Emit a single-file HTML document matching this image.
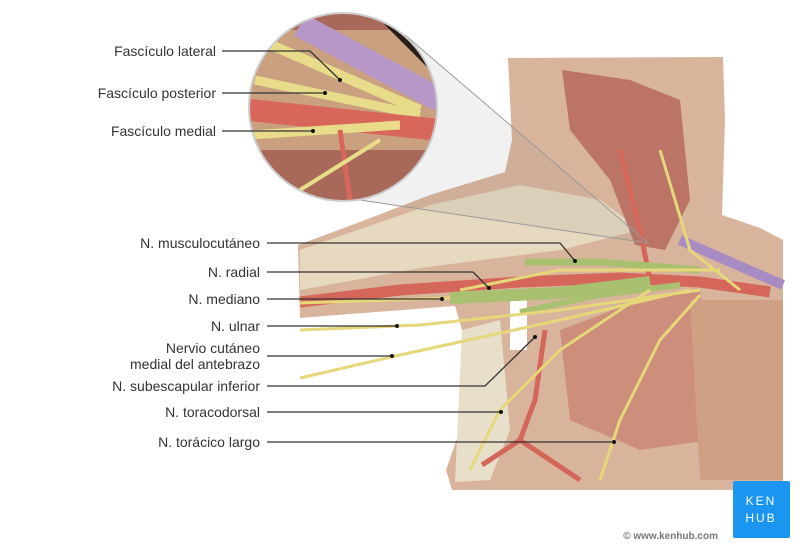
<!DOCTYPE html>
<html><head><meta charset="utf-8"><style>
html,body{margin:0;padding:0;background:#fff;width:800px;height:550px;overflow:hidden}
svg{display:block}
text{font-family:"Liberation Sans",sans-serif;font-size:14px;fill:#333}
</style></head><body>
<svg width="800" height="550" viewBox="0 0 800 550" xmlns="http://www.w3.org/2000/svg">
<defs>
<clipPath id="cc"><circle cx="343" cy="107" r="94"/></clipPath>
</defs>
<!-- body -->
<path d="M508,58 L723,57 L725,120 L722,215 L760,228 L783,240 L783,490 L452,490 L446,470 L460,430 L462,330 L455,306 L300,318 L298,245 L360,222 L430,195 L505,172 L512,140 Z" fill="#d9b49c"/>
<path d="M300,250 L430,205 L520,185 L600,200 L640,230 L560,250 L420,268 L300,290 Z" fill="#e6d9c0"/>
<path d="M562,70 L630,80 L680,100 L690,200 L665,250 L635,245 L610,180 L570,130 Z" fill="#bb7466"/>
<path d="M560,330 L640,300 L700,290 L710,440 L640,450 L570,420 Z" fill="#cd8e7c"/>
<path d="M690,300 L783,300 L783,480 L700,480 Z" fill="#cfa084"/>
<path d="M462,330 L500,320 L510,430 L490,480 L455,482 Z" fill="#e8dfcb"/>
<rect x="510" y="300" width="17" height="50" fill="#fff"/>
<path d="M300,318 L455,306 L462,330 L300,330 Z" fill="#fff"/>
<!-- vein -->
<path d="M680,240 L783,285" stroke="#a98bc4" stroke-width="10"/>
<!-- artery -->
<path d="M300,302 L400,290 L520,282 L620,278 L700,282 L770,292" stroke="#d5665a" stroke-width="11" fill="none"/>
<path d="M620,150 L640,230 L650,280" stroke="#d5665a" stroke-width="5" fill="none"/>
<path d="M545,330 L535,400 L520,440 L482,465 M520,440 L580,480" stroke="#d5665a" stroke-width="5" fill="none"/>
<!-- nerves -->
<path d="M525,262 L600,262 L700,270" stroke="#a8c070" stroke-width="7" fill="none"/>
<path d="M450,298 L560,293 L650,282" stroke="#a8c070" stroke-width="12" fill="none"/>
<path d="M520,312 L600,295 L680,285" stroke="#a8c070" stroke-width="6" fill="none"/>
<g stroke="#e6d77a" fill="none" stroke-width="3">
<path d="M300,303 L450,298"/><path d="M300,330 L420,325 L560,310 L700,290"/>
<path d="M300,378 L400,355 L560,320 L690,290"/>
<path d="M470,470 L500,410 L560,350 L650,290"/>
<path d="M600,480 L620,420 L660,340 L700,295"/>
<path d="M660,150 L690,250 L740,290"/><path d="M460,290 L560,270 L720,270"/>
</g>
<!-- magnifier cone -->
<path d="M405,35 L648,243 L360,200 Z" fill="#888" fill-opacity="0.12"/>
<path d="M405,35 L648,243 L360,200" stroke="#999" stroke-width="1" fill="none"/>
<!-- circle inset -->
<g clip-path="url(#cc)">
<rect x="240" y="10" width="200" height="200" fill="#a8685a"/>
<path d="M250,30 L440,30 L440,150 L250,150 Z" fill="#c9a080"/>
<path d="M380,20 L440,30 L440,80 Z" fill="#2a1d18"/>
<path d="M300,25 L440,100" stroke="#b797c8" stroke-width="24"/>
<path d="M260,40 L420,110" stroke="#e8dc8a" stroke-width="10"/>
<path d="M255,80 L420,115" stroke="#e8dc8a" stroke-width="9"/>
<path d="M250,110 L440,130" stroke="#d8665a" stroke-width="22"/>
<path d="M250,135 L400,125" stroke="#e8dc8a" stroke-width="9"/>
<path d="M340,130 L350,200" stroke="#d8665a" stroke-width="5"/>
<path d="M300,190 L380,140" stroke="#e8dc8a" stroke-width="4"/>
</g>
<circle cx="343" cy="107" r="94" fill="none" stroke="#ccc" stroke-width="2"/>
<!-- leader lines -->
<g stroke="#333" stroke-width="1.3" fill="none">
<path d="M222,51 L310,51 L340,80"/><path d="M222,93 L325,93"/><path d="M222,131 L313,131"/>
<path d="M267,243 L560,243 L575,261"/><path d="M267,272 L473,272 L489,288"/>
<path d="M267,299 L442,299"/><path d="M267,326 L397,326"/><path d="M267,356 L392,356"/>
<path d="M267,386 L485,386 L535,337"/><path d="M267,412 L501,412"/><path d="M267,442 L614,442"/>
</g>
<g fill="#111">
<circle cx="340" cy="80" r="2"/><circle cx="325" cy="93" r="2"/><circle cx="313" cy="131" r="2"/>
<circle cx="575" cy="261" r="2"/><circle cx="489" cy="288" r="2"/><circle cx="442" cy="299" r="2"/>
<circle cx="397" cy="326" r="2"/><circle cx="392" cy="356" r="2"/><circle cx="535" cy="337" r="2"/>
<circle cx="501" cy="412" r="2"/><circle cx="614" cy="442" r="2"/>
</g>
<g text-anchor="end">
<text x="216" y="56">Fascículo lateral</text>
<text x="216" y="98">Fascículo posterior</text>
<text x="216" y="136">Fascículo medial</text>
<text x="260" y="248">N. musculocutáneo</text>
<text x="260" y="277">N. radial</text>
<text x="260" y="304">N. mediano</text>
<text x="260" y="331">N. ulnar</text>
<text x="260" y="353">Nervio cutáneo</text>
<text x="260" y="369">medial del antebrazo</text>
<text x="260" y="391">N. subescapular inferior</text>
<text x="260" y="417">N. toracodorsal</text>
<text x="260" y="447">N. torácico largo</text>
</g>
<rect x="733" y="481" width="57" height="57" rx="2" fill="#1a96f0"/>
<text x="761" y="505" text-anchor="middle" style="fill:#fff;font-size:12px;letter-spacing:2px">KEN</text>
<text x="761" y="522" text-anchor="middle" style="fill:#fff;font-size:12px;letter-spacing:2px">HUB</text>
<text x="718" y="539" text-anchor="end" style="fill:#777;font-size:10px;font-weight:bold">© www.kenhub.com</text>
</svg>
</body></html>
